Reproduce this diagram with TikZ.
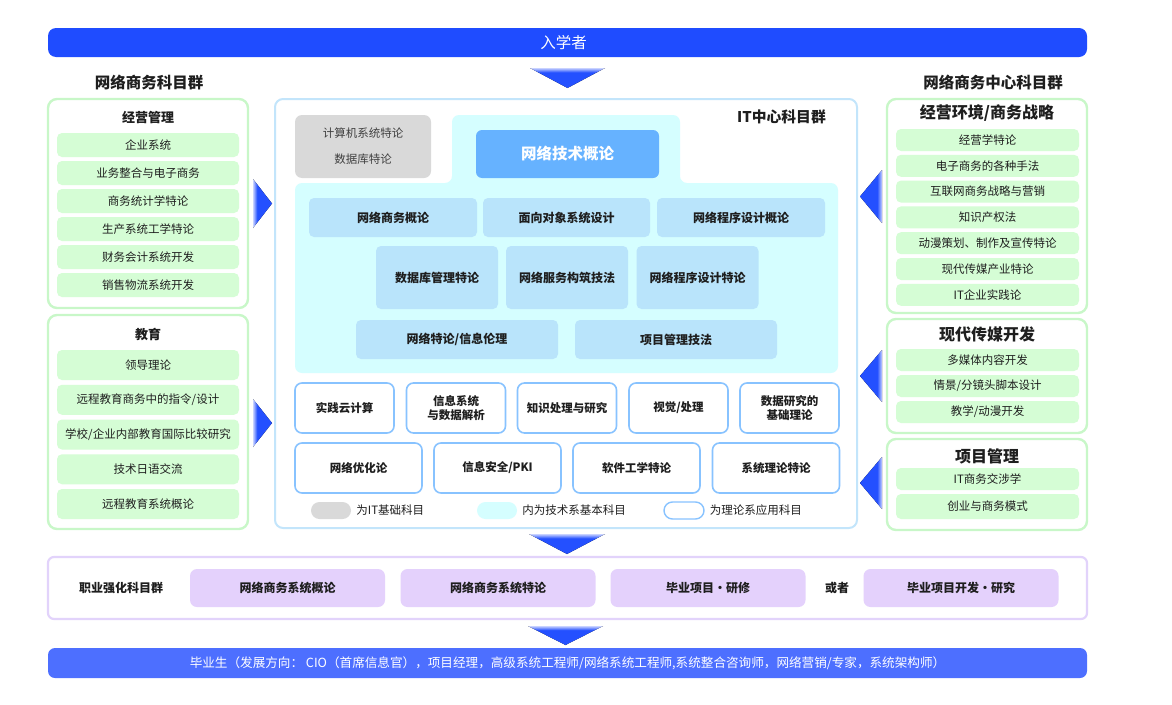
\documentclass[tikz,border=0pt]{standalone}
\usepackage{fontspec}
\setmainfont{Noto Sans CJK SC}
\usetikzlibrary{positioning}
\definecolor{barblue}{HTML}{1F4CFF}
\definecolor{gradblue}{HTML}{4D6FFF}
\definecolor{arrowblue}{HTML}{2450FF}
\definecolor{arrowlite}{HTML}{C8D2FF}
\definecolor{grnline}{HTML}{C8F7C8}
\definecolor{grnfill}{HTML}{D5FDD5}
\definecolor{itline}{HTML}{C3E5FB}
\definecolor{cyanfill}{HTML}{D5FEFF}
\definecolor{rowfill}{HTML}{B9E4FB}
\definecolor{techfill}{HTML}{66B2FF}
\definecolor{grayfill}{HTML}{D9D9D9}
\definecolor{appline}{HTML}{88C3FF}
\definecolor{purpline}{HTML}{E2D3FB}
\definecolor{purpfill}{HTML}{E4D1FC}
\definecolor{ink}{HTML}{1E1E1E}
\pgfdeclarehorizontalshading{arrowshade}{100bp}{color(0bp)=(arrowlite); color(25bp)=(arrowlite); color(36bp)=(arrowblue); color(100bp)=(arrowblue)}

\begin{document}
\begin{tikzpicture}[x=1pt, y=-1pt,
    every node/.style={inner sep=0pt, text=ink},
    arrowtri/.style={shading=arrowshade, draw=none},
    grnpanel/.style={draw=grnline, line width=2.4pt, fill=white, rounded corners=9pt},
    item/.style={fill=grnfill, rounded corners=5pt, minimum width=182pt, font=\fontsize{11.5}{13}\selectfont},
    ritem/.style={item, minimum width=183pt, minimum height=22pt},
    ptitle/.style={font=\bfseries\fontsize{13}{15}\selectfont},
    rtitle/.style={font=\bfseries\fontsize{16}{18}\selectfont},
    group/.style={font=\bfseries\fontsize{15.5}{17}\selectfont},
    core/.style={fill=rowfill, rounded corners=5pt, font=\bfseries\fontsize{12}{14}\selectfont},
    apply/.style={draw=appline, line width=1.6pt, fill=white, rounded corners=7pt, minimum width=99pt, minimum height=50pt, align=center, font=\bfseries\fontsize{11.5}{14}\selectfont},
    pill/.style={minimum width=40pt, minimum height=17pt, rounded corners=8.5pt},
    legtext/.style={right=5pt of #1, font=\fontsize{11.5}{13}\selectfont},
    career/.style={fill=purpfill, rounded corners=7pt, minimum width=195pt, minimum height=38pt, font=\bfseries\fontsize{12}{14}\selectfont}]
\useasboundingbox (0,0) rectangle (1172,704);

% entry and exit bars
\node[fill=barblue, rounded corners=8pt, minimum width=1039pt, minimum height=29pt] (entry) at (567.5,42.5) {};
\node[text=white, font=\fontsize{15.5}{17}\selectfont] (entrytxt) at (563.5,42.5) {入学者};
\node[fill=gradblue, rounded corners=7pt, minimum width=1039pt, minimum height=30pt, text=white, font=\fontsize{12.6}{14}\selectfont] (grad) at (567.5,663) {毕业生（发展方向： CIO（首席信息官），项目经理，高级系统工程师/网络系统工程师,系统整合咨询师，网络营销/专家，系统架构师）};

% arrows
\fill[arrowtri, shading angle=-90] (530,68) -- (605,68) -- (567.5,88) -- cycle;
\fill[arrowtri, shading angle=-90] (529,534) -- (605,534) -- (567,554) -- cycle;
\fill[arrowtri, shading angle=-90] (528,626) -- (603,626) -- (565.5,645) -- cycle;
\fill[arrowtri] (253,179) -- (272,203.5) -- (253,228) -- cycle;
\fill[arrowtri] (253,399) -- (272,423) -- (253,447) -- cycle;
\fill[arrowtri, shading angle=180] (882,170) -- (860,196.5) -- (882,223) -- cycle;
\fill[arrowtri, shading angle=180] (882,350) -- (860,376) -- (882,402) -- cycle;
\fill[arrowtri, shading angle=180] (882,457) -- (860,483) -- (882,509) -- cycle;

% left: network business subjects
\node[group] (lgrp) at (149,83) {网络商务科目群};
\draw[grnpanel] (48,99) rectangle (248,308);
\node[ptitle] (mgt) at (148,118) {经营管理};
\foreach \t [count=\i] in {企业系统,业务整合与电子商务,商务统计学特论,生产系统工学特论,财务会计系统开发,销售物流系统开发}
  \node[item, minimum height=24pt] (mgt\i) at (148,{145+28*(\i-1)}) {\t};
\draw[grnpanel] (48,315) rectangle (248,529);
\node[ptitle] (edu) at (148,334) {教育};
\foreach \t [count=\i] in {领导理论,远程教育商务中的指令/设计,学校/企业内部教育国际比较研究,技术日语交流,远程教育系统概论}
  \node[item, minimum height=30pt] (edu\i) at (148,{365+34.75*(\i-1)}) {\t};

% right: network business core subjects
\node[group] (rgrp) at (993,83) {网络商务中心科目群};
\draw[grnpanel] (887,99) rectangle (1087,313);
\node[rtitle] (env) at (987,113) {经营环境/商务战略};
\foreach \t [count=\i] in {经营学特论,电子商务的各种手法,互联网商务战略与营销,知识产权法,动漫策划、制作及宣传特论,现代传媒产业特论,IT企业实践论}
  \node[ritem] (env\i) at (987.5,{140+25.8*(\i-1)}) {\t};
\draw[grnpanel] (887,319) rectangle (1087,433);
\node[rtitle] (media) at (987,334) {现代传媒开发};
\foreach \t [count=\i] in {多媒体内容开发,情景/分镜头脚本设计,教学/动漫开发}
  \node[ritem] (media\i) at (987.5,{360+26*(\i-1)}) {\t};
\draw[grnpanel] (887,439) rectangle (1087,530);
\node[rtitle] (proj) at (987,456) {项目管理};
\node[ritem] (proj1) at (987.5,479) {IT商务交涉学};
\node[ritem, minimum height=25pt] (proj2) at (987.5,506.5) {创业与商务模式};

% centre: IT core subjects
\draw[draw=itline, line width=2pt, fill=white, rounded corners=8pt] (275,99) rectangle (857,528);
\node[font=\bfseries\fontsize{14.8}{16}\selectfont] (itgrp) at (781.5,117) {IT中心科目群};
\fill[cyanfill, rounded corners=7pt] (452,115) -- (680,115) -- (680,183) -- (838,183) -- (838,373) -- (295,373) -- (295,183) -- (452,183) -- cycle;
\node[fill=grayfill, rounded corners=7pt, minimum width=136pt, minimum height=63pt, align=center, text=ink!85, font=\fontsize{11.5}{26}\selectfont] (base) at (363,146.5) {计算机系统特论\\数据库特论};
\node[fill=techfill, rounded corners=6pt, minimum width=183pt, minimum height=48pt, text=white, font=\bfseries\fontsize{15.5}{17}\selectfont] (tech) at (567.5,154) {网络技术概论};
\node[core, minimum width=168pt, minimum height=39pt] (c1) at (393,217.5) {网络商务概论};
\node[core, minimum width=167pt, minimum height=39pt] (c2) at (566.5,217.5) {面向对象系统设计};
\node[core, minimum width=168pt, minimum height=39pt] (c3) at (741,217.5) {网络程序设计概论};
\node[core, minimum width=122pt, minimum height=63pt] (c4) at (437,277.5) {数据库管理特论};
\node[core, minimum width=122pt, minimum height=63pt] (c5) at (567,277.5) {网络服务构筑技法};
\node[core, minimum width=122pt, minimum height=63pt] (c6) at (697.5,277.5) {网络程序设计特论};
\node[core, minimum width=202pt, minimum height=39pt] (c7) at (457,339.5) {网络特论/信息伦理};
\node[core, minimum width=202pt, minimum height=39pt] (c8) at (676,339.5) {项目管理技法};
\node[apply] (a1) at (344.5,408) {实践云计算};
\node[apply] (a2) at (456,408) {信息系统\\与数据解析};
\node[apply] (a3) at (567,408) {知识处理与研究};
\node[apply] (a4) at (678.5,408) {视觉/处理};
\node[apply] (a5) at (789.5,408) {数据研究的\\基础理论};
\node[apply, minimum width=127pt] (a6) at (358.5,468) {网络优化论};
\node[apply, minimum width=127pt] (a7) at (497.5,468) {信息安全/PKI};
\node[apply, minimum width=127pt] (a8) at (636.5,468) {软件工学特论};
\node[apply, minimum width=127pt] (a9) at (776,468) {系统理论特论};
% legend
\node[pill, fill=grayfill] (lgray) at (331,510.5) {};
\node[legtext=lgray] (lgraytxt) {为IT基础科目};
\node[pill, fill=cyanfill] (lcyan) at (497,510.5) {};
\node[legtext=lcyan] (lcyantxt) {内为技术系基本科目};
\node[pill, draw=appline, line width=1.4pt, fill=white] (lwhite) at (684,510.5) {};
\node[legtext=lwhite] (lwhitetxt) {为理论系应用科目};

% bottom: career subjects
\draw[draw=purpline, line width=2.2pt, fill=white, rounded corners=6pt] (48,557) rectangle (1087,619);
\node[font=\bfseries\fontsize{12}{14}\selectfont] (job) at (121,588) {职业强化科目群};
\node[career] (k1) at (287.5,588) {网络商务系统概论};
\node[career] (k2) at (498,588) {网络商务系统特论};
\node[career] (k3) at (708,588) {毕业项目·研修};
\node[font=\bfseries\fontsize{12}{14}\selectfont] (orr) at (837,588) {或者};
\node[career] (k4) at (961,588) {毕业项目开发·研究};
\end{tikzpicture}
\end{document}
